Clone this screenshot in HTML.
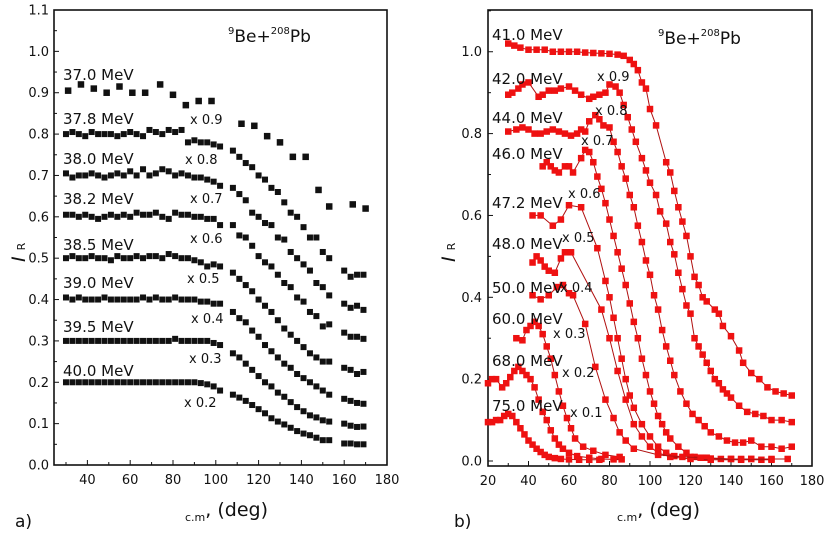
<!DOCTYPE html>
<html><head><meta charset="utf-8"><style>
html,body{margin:0;padding:0;background:#fff;}
svg{display:block;font-family:"DejaVu Sans","Liberation Sans",sans-serif;}
</style></head><body>
<svg id="c" width="828" height="538" viewBox="0 0 828 538"></svg>
<script>
// ---------- Panel a data ----------
const aAngles = [30,33,36,39,42,45,48,51,54,57,60,63,66,69,72,75,78,81,84,87,90,93,96,99,102,108,111,114,117,120,123,126,129,132,135,138,141,144,147,150,153,160,163,166,169];
const aLabels = ["37.8 MeV","38.0 MeV","38.2 MeV","38.5 MeV","39.0 MeV","39.5 MeV","40.0 MeV"];
const aScales = ["x 0.9","x 0.8","x 0.7","x 0.6","x 0.5","x 0.4","x 0.3","x 0.2"];
const a378 = [0.80,0.805,0.80,0.795,0.805,0.80,0.80,0.80,0.795,0.80,0.805,0.80,0.795,0.81,0.805,0.80,0.81,0.805,0.81,0.78,0.785,0.78,0.78,0.775,0.77,0.76,0.745,0.73,0.72,0.70,0.69,0.67,0.66,0.635,0.61,0.60,0.575,0.55,0.55,0.515,0.50,0.47,0.455,0.46,0.46];
const a380 = [0.705,0.695,0.70,0.70,0.705,0.70,0.695,0.70,0.705,0.70,0.71,0.70,0.715,0.70,0.705,0.715,0.71,0.70,0.705,0.70,0.695,0.695,0.69,0.685,0.675,0.67,0.655,0.64,0.61,0.60,0.585,0.58,0.55,0.545,0.515,0.50,0.485,0.47,0.44,0.43,0.41,0.39,0.38,0.385,0.375];
const a382 = [0.605,0.605,0.60,0.605,0.60,0.595,0.60,0.605,0.60,0.605,0.60,0.61,0.605,0.605,0.61,0.60,0.595,0.61,0.605,0.605,0.60,0.60,0.595,0.595,0.58,0.58,0.555,0.55,0.53,0.505,0.49,0.48,0.46,0.44,0.43,0.405,0.395,0.37,0.36,0.335,0.34,0.32,0.31,0.31,0.305];
const a385 = [0.50,0.505,0.50,0.50,0.505,0.50,0.50,0.495,0.505,0.50,0.50,0.505,0.50,0.505,0.505,0.50,0.51,0.505,0.50,0.50,0.495,0.49,0.48,0.485,0.48,0.465,0.45,0.435,0.42,0.40,0.385,0.37,0.35,0.33,0.315,0.30,0.285,0.27,0.26,0.25,0.25,0.235,0.23,0.22,0.225];
const a390 = [0.405,0.40,0.405,0.40,0.40,0.40,0.405,0.40,0.40,0.40,0.40,0.40,0.405,0.40,0.405,0.40,0.40,0.405,0.40,0.40,0.40,0.395,0.395,0.39,0.39,0.37,0.355,0.345,0.325,0.31,0.29,0.275,0.26,0.245,0.235,0.22,0.21,0.20,0.19,0.18,0.17,0.16,0.155,0.15,0.148];
const a395 = [0.30,0.30,0.30,0.30,0.30,0.30,0.30,0.30,0.30,0.30,0.30,0.30,0.30,0.30,0.30,0.30,0.30,0.305,0.30,0.30,0.30,0.30,0.30,0.295,0.29,0.27,0.26,0.245,0.23,0.215,0.20,0.19,0.175,0.165,0.152,0.14,0.13,0.12,0.115,0.108,0.105,0.10,0.095,0.092,0.093];
const a400 = [0.20,0.20,0.20,0.20,0.20,0.20,0.20,0.20,0.20,0.20,0.20,0.20,0.20,0.20,0.20,0.20,0.20,0.20,0.20,0.20,0.20,0.198,0.195,0.19,0.18,0.17,0.163,0.155,0.145,0.135,0.125,0.113,0.105,0.098,0.09,0.082,0.076,0.072,0.066,0.06,0.06,0.052,0.052,0.05,0.05];
const a370Angles = [31,37,43,49,55,61,67,74,80,86,92,98,112,118,124,130,136,142,148,153,164,170];
const a370 = [0.905,0.92,0.91,0.90,0.915,0.90,0.90,0.92,0.895,0.87,0.88,0.88,0.825,0.82,0.795,0.78,0.745,0.745,0.665,0.625,0.63,0.62];

// ---------- Panel b data ----------
const bLabels = ["41.0 MeV","42.0 MeV","44.0 MeV","46.0 MeV","47.2 MeV","48.0 MeV","50.0 MeV","60.0 MeV","68.0 MeV","75.0 MeV"];
const bScales = ["x 0.9","x 0.8","x 0.7","x 0.6","x 0.5","x 0.4","x 0.3","x 0.2","x 0.1"];
const b410x = [30,33,36,40,44,48,52,56,60,64,68,72,76,80,84,87,90,92,94,96,98,100,103,108,110,112,114,116,118,120,122,124,126,128,132,134,136,140,144,146,150,154,158,162,166,170];
const b410y = [1.02,1.015,1.01,1.005,1.005,1.005,1.0,1.0,1.0,1.0,0.998,0.997,0.996,0.995,0.993,0.99,0.98,0.97,0.955,0.925,0.91,0.86,0.82,0.73,0.705,0.66,0.62,0.585,0.55,0.50,0.45,0.43,0.40,0.39,0.37,0.36,0.33,0.305,0.27,0.24,0.215,0.20,0.18,0.17,0.165,0.16];
const b420x = [30,32,35,37,40,45,47,50,53,56,60,63,66,70,72,75,78,80,83,85,87,89,91,93,96,98,100,103,105,108,110,112,114,116,118,120,122,124,126,128,130,132,134,136,138,140,144,148,152,156,160,165,170];
const b420y = [0.895,0.90,0.91,0.92,0.925,0.89,0.895,0.905,0.905,0.91,0.915,0.905,0.895,0.885,0.89,0.895,0.90,0.92,0.915,0.90,0.87,0.84,0.81,0.78,0.74,0.71,0.68,0.65,0.61,0.58,0.535,0.505,0.46,0.42,0.38,0.36,0.30,0.28,0.26,0.24,0.22,0.20,0.19,0.175,0.165,0.155,0.135,0.12,0.115,0.11,0.10,0.10,0.095];
const b440x = [30,34,37,40,43,46,49,52,55,58,61,64,66,68,70,73,75,77,80,82,84,86,88,90,92,94,96,98,100,102,104,106,108,110,112,115,118,121,124,127,130,134,138,142,146,150,155,160,165,170];
const b440y = [0.805,0.81,0.815,0.81,0.80,0.80,0.805,0.81,0.805,0.80,0.795,0.80,0.81,0.805,0.83,0.845,0.835,0.82,0.815,0.78,0.755,0.72,0.69,0.65,0.62,0.575,0.535,0.49,0.455,0.405,0.37,0.32,0.28,0.245,0.21,0.17,0.14,0.115,0.10,0.085,0.07,0.06,0.05,0.045,0.045,0.05,0.035,0.035,0.03,0.035];
const b460x = [47,49,51,53,55,58,60,62,66,68,70,72,74,76,78,80,82,84,86,88,90,92,94,96,98,100,102,104,106,108,110,114,118,122,126,130,135,140,145,150,155];
const b460y = [0.72,0.73,0.72,0.71,0.705,0.72,0.72,0.705,0.74,0.76,0.755,0.73,0.695,0.665,0.63,0.59,0.55,0.51,0.47,0.43,0.385,0.34,0.30,0.25,0.21,0.17,0.14,0.11,0.09,0.07,0.055,0.035,0.02,0.01,0.008,0.006,0.005,0.005,0.005,0.005,0.003];
const b472x = [42,46,52,56,60,66,74,78,80,82,84,86,88,90,92,96,100,104,108,112,120,128,140,150,160,168];
const b472y = [0.60,0.60,0.575,0.59,0.625,0.62,0.52,0.44,0.40,0.35,0.30,0.25,0.20,0.16,0.13,0.09,0.06,0.035,0.02,0.012,0.01,0.008,0.005,0.005,0.005,0.005];
const b480x = [42,44,46,48,50,53,56,58,61,76,80,84,88,92,96,100,104,110,120,130,145,160];
const b480y = [0.485,0.50,0.49,0.475,0.465,0.46,0.495,0.51,0.51,0.37,0.30,0.22,0.15,0.09,0.06,0.035,0.02,0.01,0.005,0.003,0.003,0.003];
const b500x = [42,46,50,54,57,60,62,68,73,78,82,85,88,92,104,116,125];
const b500y = [0.405,0.395,0.405,0.425,0.43,0.41,0.405,0.335,0.23,0.15,0.105,0.07,0.05,0.03,0.015,0.01,0.008];
const b600x = [34,37,39,41,43,45,47,49,51,53,55,57,59,61,63,67,72,78,85];
const b600y = [0.30,0.295,0.32,0.33,0.34,0.33,0.31,0.28,0.25,0.21,0.17,0.135,0.105,0.08,0.055,0.035,0.025,0.015,0.01];
const b680x = [20,22,24,27,29,31,33,35,37,39,41,43,45,47,49,51,53,55,57,60,64,70,76,82,86];
const b680y = [0.19,0.20,0.20,0.18,0.19,0.205,0.22,0.23,0.22,0.21,0.20,0.18,0.15,0.12,0.10,0.075,0.055,0.04,0.03,0.02,0.012,0.008,0.005,0.004,0.004];
const b750x = [20,22,24,26,28,30,32,34,36,38,40,42,44,46,48,50,53,56,60,65,70,75];
const b750y = [0.095,0.095,0.10,0.10,0.11,0.115,0.11,0.095,0.08,0.065,0.05,0.04,0.03,0.022,0.015,0.01,0.007,0.005,0.004,0.003,0.003,0.003];
const xTicks = [40,60,80,100,120,140,160,180];
const xTicksB = [20,40,60,80,100,120,140,160,180];
const yTicksA = ["0.0","0.1","0.2","0.3","0.4","0.5","0.6","0.7","0.8","0.9","1.0","1.1"];
const yTicksB = ["0.0","0.2","0.4","0.6","0.8","1.0"];

const NS="http://www.w3.org/2000/svg";
const svg=document.getElementById('c');
function mk(tag,at,parent){const e=document.createElementNS(NS,tag);for(const k in at)e.setAttribute(k,at[k]);(parent||svg).appendChild(e);return e;}
function txt(s,x,y,size,anchor,parent){const t=mk('text',{x:x,y:y,'font-size':size,'text-anchor':anchor||'start',fill:'#111'},parent);t.textContent=s;return t;}

// Axis functions
const axA={x0:54,x1:387,xmin:24.4,xmax:180,y0:465,y1:10,ymin:0,ymax:1.1};
const axB={x0:488,x1:812,xmin:20,xmax:180,y0:466,y1:10,ymin:-0.0122,ymax:1.102};
function sx(ax,v){return ax.x0+(v-ax.xmin)/(ax.xmax-ax.xmin)*(ax.x1-ax.x0);}
function sy(ax,v){return ax.y0-(v-ax.ymin)/(ax.ymax-ax.ymin)*(ax.y0-ax.y1);}

function frame(ax,name){
  const g=mk('g',{});
  
  
  mk('rect',{x:ax.x0,y:ax.y1,width:ax.x1-ax.x0,height:ax.y0-ax.y1,fill:'none',stroke:'#111','stroke-width':1.6},g);
  return g;
}

// ---------- Panel a ----------
const gA=frame(axA,'panel-a');
yTicksA.forEach((l,i)=>{const v=parseFloat(l),y=sy(axA,v);
  mk('line',{x1:axA.x0,x2:axA.x0+5,y1:y,y2:y,stroke:'#111'},gA);
  if(i<yTicksA.length-1){const ym=sy(axA,v+0.05);mk('line',{x1:axA.x0,x2:axA.x0+3,y1:ym,y2:ym,stroke:'#111'},gA);}
  const t=txt(l,axA.x0-5,y+4.5,13,'end',gA);});
xTicks.forEach(v=>{const x=sx(axA,v);
  mk('line',{x1:x,x2:x,y1:axA.y0,y2:axA.y0-5,stroke:'#111'},gA);
  const xm=sx(axA,v-10);mk('line',{x1:xm,x2:xm,y1:axA.y0,y2:axA.y0-3,stroke:'#111'},gA);
  const t=txt(String(v),x,axA.y0+19,13,'middle',gA);});
function squares(ax,xs,ys,color,size,name,line){
  const g=mk('g',{});
  
  
  if(line){let d='';xs.forEach((x,i)=>{d+=(i?'L':'M')+sx(ax,x).toFixed(1)+' '+sy(ax,ys[i]).toFixed(1);});
    mk('path',{d:d,fill:'none',stroke:'#b01010','stroke-width':1},g);}
  xs.forEach((x,i)=>{const r=mk('rect',{x:sx(ax,x)-size/2,y:sy(ax,ys[i])-size/2,width:size,height:size,fill:color},g);
    
    });
}
squares(axA,a370Angles,a370,'#111',6.5,'series-37-0-mev');
[a378,a380,a382,a385,a390,a395,a400].forEach((s,i)=>squares(axA,aAngles,s,'#111',6,'series-'+aLabels[i].replace(/[ .]/g,'-').toLowerCase()));
const aLabY=[74,118,158,198,244,282,326,370];
["37.0 MeV"].concat(aLabels).forEach((l,i)=>{const t=txt(l,63,aLabY[i]+6,15,'start');});
const aScPos=[[190,124],[185,164],[190,203],[190,243],[187,283],[191,323],[189,363],[184,407]];
aScales.forEach((l,i)=>{const t=txt(l,aScPos[i][0],aScPos[i][1],13,'start');});

// ---------- Panel b ----------
const gB=frame(axB,'panel-b');
yTicksB.forEach((l,i)=>{const v=parseFloat(l),y=sy(axB,v);
  mk('line',{x1:axB.x0,x2:axB.x0+5,y1:y,y2:y,stroke:'#111'},gB);
  const ym=sy(axB,v+0.1);mk('line',{x1:axB.x0,x2:axB.x0+3,y1:ym,y2:ym,stroke:'#111'},gB);
  const t=txt(l,axB.x0-6,y+4.5,13,'end',gB);});
xTicksB.forEach(v=>{const x=sx(axB,v);
  mk('line',{x1:x,x2:x,y1:axB.y0,y2:axB.y0-5,stroke:'#111'},gB);
  if(v>20){const xm=sx(axB,v-10);mk('line',{x1:xm,x2:xm,y1:axB.y0,y2:axB.y0-3,stroke:'#111'},gB);}
  const t=txt(String(v),x,axB.y0+19,13,'middle',gB);});
const bSeries=[[b410x,b410y],[b420x,b420y],[b440x,b440y],[b460x,b460y],[b472x,b472y],[b480x,b480y],[b500x,b500y],[b600x,b600y],[b680x,b680y],[b750x,b750y]];
bSeries.forEach((s,i)=>squares(axB,s[0],s[1],'#ee1111',6.5,'series-'+bLabels[i].replace(/[ .]/g,'-').toLowerCase(),true));
const bLabY=[34,78,117,153,202,243,287,318,360,405];
bLabels.forEach((l,i)=>{const t=txt(l,492,bLabY[i]+6,15,'start');});
const bScPos=[[597,81],[595,115],[581,145],[568,198],[562,242],[560,292],[553,338],[562,377],[570,417]];
bScales.forEach((l,i)=>{const t=txt(l,bScPos[i][0],bScPos[i][1],13,'start');});

// titles and axis labels
function title(x,y,name){const t=mk('text',{x:x,y:y,'font-size':17,fill:'#111'});
  
  t.innerHTML='<tspan font-size="10" dy="-8">9</tspan><tspan dy="8">Be+</tspan><tspan font-size="10" dy="-8">208</tspan><tspan dy="8">Pb</tspan>';}
title(228,42,'panel-a-title');title(658,44,'panel-b-title');
function ylab(x,y,name){const t=mk('text',{x:x,y:y,'font-size':19,fill:'#111','font-style':'italic',transform:'rotate(-90 '+x+' '+y+')'});
  
  t.innerHTML='I<tspan font-size="11" font-style="normal" dx="6" dy="0">R</tspan>';}
ylab(25,262,'panel-a-y-axis-title');ylab(455,262,'panel-b-y-axis-title');
function xlab(x,y,name){const t=mk('text',{x:x,y:y,'font-size':19,fill:'#111'});
  
  t.innerHTML='<tspan font-size="11" dy="5">c.m</tspan><tspan dy="-5">, (deg)</tspan>';}
xlab(185,516,'panel-a-x-axis-title');xlab(617,516,'panel-b-x-axis-title');
const pa=txt('a)',15,527,17,'start');
const pb=txt('b)',454,527,17,'start');
</script>
</body></html>
